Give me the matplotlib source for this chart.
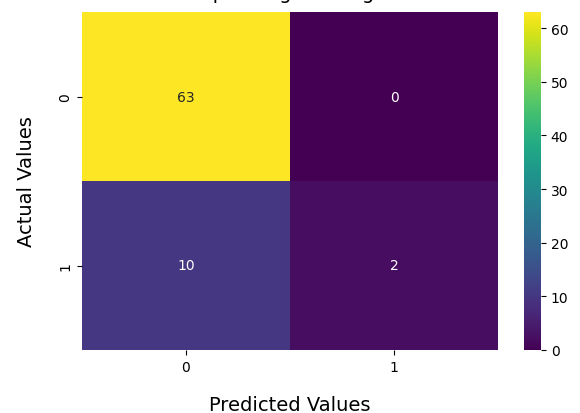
import numpy as np
import matplotlib
matplotlib.use("Agg")
import matplotlib.pyplot as plt
import seaborn as sns

# confusion matrix values
actual_labels = ["0", "1"]
predicted_labels = ["0", "1"]
cm = np.array([[63, 0],
               [10, 2]])

fig = plt.figure(figsize=(5.8, 4.14), dpi=100)
ax = fig.add_axes([82 / 580, 1 - 351 / 414, 416 / 580, 338 / 414])
cax = fig.add_axes([524 / 580, 1 - 351 / 414, 17 / 580, 338 / 414])

sns.heatmap(cm, annot=True, fmt="d", cmap="viridis", ax=ax, cbar_ax=cax,
            xticklabels=predicted_labels, yticklabels=actual_labels,
            annot_kws={"size": 10})

# title sits mostly above the saved area, as in the original
ax.set_title("Heatmap of Logistic Regression", fontsize=14, pad=10)
ax.set_xlabel("Predicted Values", fontsize=14, labelpad=15)
ax.set_ylabel("Actual Values", fontsize=14, labelpad=16)
ax.tick_params(labelsize=10)
cax.tick_params(labelsize=10)

fig.savefig("out.png", dpi=100)
